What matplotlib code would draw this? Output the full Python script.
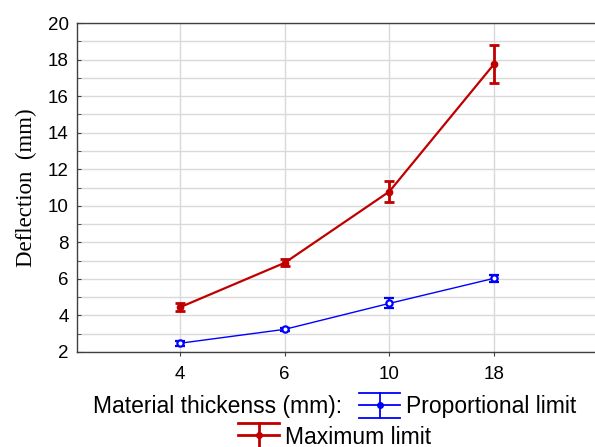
import matplotlib
matplotlib.use("Agg")
import matplotlib.pyplot as plt
from matplotlib.legend_handler import HandlerBase
from matplotlib.lines import Line2D
from matplotlib.ticker import MultipleLocator

thickness = ['4', '6', '10', '18']
prop_mean = [2.48, 3.24, 4.66, 6.03]
prop_err = [0.14, 0.10, 0.27, 0.18]
max_mean = [4.45, 6.88, 10.78, 17.75]
max_err = [0.22, 0.20, 0.58, 1.05]

blue = '#0000ff'
red = '#c00000'
sans = 'Liberation Sans'


class CapBarHandler(HandlerBase):
    """Legend key: line with marker, vertical bar and full-width caps."""

    def create_artists(self, legend, orig_handle, xdescent, ydescent,
                       width, height, fontsize, trans):
        color = orig_handle.get_color()
        lw = orig_handle.get_linewidth()
        x0, x1 = -xdescent, -xdescent + width
        yc = -ydescent + height / 2
        half = height * 0.75
        xm = (x0 + x1) / 2
        arts = [
            Line2D([x0, x1], [yc, yc]),
            Line2D([x0, x1], [yc + half, yc + half]),
            Line2D([x0, x1], [yc - half, yc - half]),
            Line2D([xm, xm], [yc - half, yc + half]),
            Line2D([xm], [yc], marker='o', markersize=4),
        ]
        for a in arts:
            a.set_color(color)
            a.set_linewidth(lw)
            a.set_transform(trans)
        return arts


fig = plt.figure(figsize=(5.95, 4.47), dpi=100)
ax = fig.add_axes([77 / 595, 1 - 352 / 447, 1 - 77 / 595, (352 - 23) / 447])

x = list(range(len(thickness)))

ax.errorbar(x, prop_mean, yerr=prop_err, color=blue, lw=1.0, elinewidth=1.3,
            capsize=3.6, capthick=1.3, marker='o', markersize=4.5,
            markerfacecolor='white', markeredgewidth=1.6, zorder=3)
ax.errorbar(x, max_mean, yerr=max_err, color=red, lw=1.6, elinewidth=2.0,
            capsize=3.6, capthick=2.0, marker='o', markersize=4.5, zorder=3)

ax.set_xlim(-0.985, 3.965)
ax.set_ylim(2, 20)
ax.set_xticks(x)
ax.set_xticklabels(thickness)
ax.yaxis.set_major_locator(MultipleLocator(2))
ax.yaxis.set_minor_locator(MultipleLocator(1))

ax.grid(True, which='both', color='#d9d9d9', lw=1.0, zorder=0)
ax.set_axisbelow(True)

for side in ('left', 'top', 'bottom'):
    ax.spines[side].set_color('#404040')
    ax.spines[side].set_linewidth(1.0)
ax.spines['right'].set_visible(False)

ax.tick_params(axis='y', which='both', direction='in', length=3, color='#404040',
               labelsize=13.5, pad=6)
ax.tick_params(axis='x', which='both', direction='out', length=3, color='#404040',
               labelsize=13.5, pad=7, top=False)
for lab in ax.get_xticklabels() + ax.get_yticklabels():
    lab.set_family(sans)

ax.set_ylabel('Deflection  (mm)', family='Liberation Serif', fontsize=16.5, labelpad=8)

h_prop = Line2D([], [], color=blue, lw=1.3)
h_max = Line2D([], [], color=red, lw=2.0)
leg_font = {'family': sans, 'size': 16.5}

fig.text(342 / 595, 1 - 407 / 447, 'Material thickenss (mm):', ha='right', va='center',
         family=sans, fontsize=16.5)
fig.legend([h_prop], ['Proportional limit'], loc='center left',
           bbox_to_anchor=(359 / 595, 1 - 407 / 447), frameon=False,
           borderpad=0, borderaxespad=0, handlelength=1.8, handletextpad=0.25,
           prop=leg_font, handler_map={Line2D: CapBarHandler()})
fig.legend([h_max], ['Maximum limit'], loc='center left',
           bbox_to_anchor=(238 / 595, 1 - 437 / 447), frameon=False,
           borderpad=0, borderaxespad=0, handlelength=1.8, handletextpad=0.25,
           prop=leg_font, handler_map={Line2D: CapBarHandler()})

fig.savefig('out.png', dpi=100)
